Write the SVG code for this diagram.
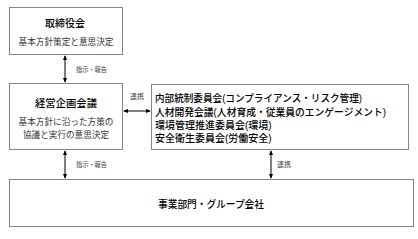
<svg xmlns="http://www.w3.org/2000/svg" width="418" height="239" viewBox="0 0 418 239">
<style>
.box{fill:#fff;stroke:#858585;stroke-width:1}
.t{font-family:"Liberation Sans","Noto Sans CJK JP",sans-serif;fill:#000;font-weight:500}
.title{font-size:10.3px;text-anchor:middle}
.sub{font-size:8.6px;text-anchor:middle;fill:#333;font-weight:normal}
.list{font-size:10px}
.lbl{font-size:7px;fill:#444;font-weight:normal}
.con{stroke:#000;stroke-width:1;fill:none;marker-start:url(#ah);marker-end:url(#ah)}
</style>
<defs>
<marker id="ah" viewBox="0 0 6 6" refX="5" refY="3" markerWidth="5" markerHeight="5" orient="auto-start-reverse" markerUnits="userSpaceOnUse">
<path d="M0,0.5 L6,3 L0,5.5 z" fill="#000"/>
</marker>
</defs>
<rect width="418" height="239" fill="#fff"/>
<g id="board">
<rect class="box" x="9.5" y="7.5" width="113" height="47"/>
<text class="t title" x="65" y="27" textLength="40" lengthAdjust="spacingAndGlyphs">取締役会</text>
<text class="t sub" x="66" y="45" textLength="95" lengthAdjust="spacingAndGlyphs">基本方針策定と意思決定</text>
</g>
<g id="mgmt">
<rect class="box" x="9.5" y="83.5" width="113" height="66"/>
<text class="t title" x="66" y="107" textLength="62" lengthAdjust="spacingAndGlyphs">経営企画会議</text>
<text class="t sub" x="66" y="124.5" textLength="95" lengthAdjust="spacingAndGlyphs">基本方針に沿った方策の</text>
<text class="t sub" x="66" y="138" textLength="86" lengthAdjust="spacingAndGlyphs">協議と実行の意思決定</text>
</g>
<g id="committees">
<rect class="box" x="151.5" y="84.5" width="257" height="65"/>
<text class="t list" x="155" y="102" textLength="207" lengthAdjust="spacingAndGlyphs">内部統制委員会(コンプライアンス・リスク管理)</text>
<text class="t list" x="155" y="115.5" textLength="231" lengthAdjust="spacingAndGlyphs">人材開発会議(人材育成・従業員のエンゲージメント)</text>
<text class="t list" x="155" y="128.5">環境管理推進委員会(環境)</text>
<text class="t list" x="155" y="141.5">安全衛生委員会(労働安全)</text>
</g>
<g id="business">
<rect class="box" x="9.5" y="179.5" width="404" height="47"/>
<text class="t title" x="211" y="208" textLength="106" lengthAdjust="spacingAndGlyphs">事業部門・グループ会社</text>
</g>
<g id="connectors">
<line class="con" x1="65" y1="56" x2="65" y2="82"/>
<line class="con" x1="65" y1="151" x2="65" y2="178"/>
<line class="con" x1="124" y1="111" x2="150" y2="111"/>
<line class="con" x1="271" y1="151" x2="271" y2="178"/>
<text class="t lbl" x="76" y="71.5" textLength="31" lengthAdjust="spacingAndGlyphs">指示・報告</text>
<text class="t lbl" x="76" y="167" textLength="31" lengthAdjust="spacingAndGlyphs">指示・報告</text>
<text class="t lbl" x="137" y="99" text-anchor="middle">連携</text>
<text class="t lbl" x="277" y="166.5">連携</text>
</g>
</svg>
